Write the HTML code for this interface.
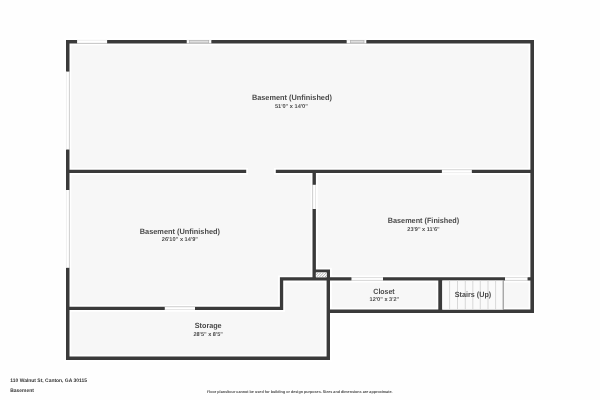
<!DOCTYPE html>
<html><head><meta charset="utf-8"><style>
html,body{margin:0;padding:0;background:#fefefe;width:600px;height:400px;overflow:hidden}
svg{display:block;will-change:transform;filter:blur(0.25px)}
text{text-rendering:geometricPrecision;font-family:"Liberation Sans",sans-serif;fill:#4a4a4a}
</style></head><body>
<svg width="600" height="400" viewBox="0 0 600 400">
<defs><clipPath id="hc"><rect x="315.9" y="272.6" width="10.7" height="4.6"/></clipPath></defs>
<rect width="600" height="400" fill="#fefefe"/>
<path fill="#f7f7f7" d="M66 40H534V312.7H329.8V359.8H66Z"/>
<path fill="#fff" d="M64.20 38.10H535.80V45.20H64.20ZM528.60 38.10H535.80V314.70H528.60ZM64.20 38.10H71.30V361.70H64.20ZM64.20 354.70H331.80V361.70H64.20ZM324.80 267.80H331.80V361.70H324.80ZM324.80 307.80H535.80V314.70H324.80ZM278.10 275.40H535.80V282.40H278.10ZM278.10 275.40H285.00V311.70H278.10ZM64.20 305.00H285.00V311.70H64.20ZM64.20 167.90H248.00V174.80H64.20ZM274.00 167.90H535.80V174.80H274.00ZM310.70 167.90H317.70V282.40H310.70ZM310.70 267.80H331.80V274.40H310.70ZM436.50 275.40H444.10V314.70H436.50Z"/>
<path fill="#3a3a3a" d="M66.00 39.90H534.00V43.40H66.00ZM530.40 39.90H534.00V312.90H530.40ZM66.00 39.90H69.50V359.90H66.00ZM66.00 356.50H330.00V359.90H66.00ZM326.60 269.60H330.00V359.90H326.60ZM326.60 309.60H534.00V312.90H326.60ZM279.90 277.20H534.00V280.60H279.90ZM279.90 277.20H283.20V309.90H279.90ZM66.00 306.80H283.20V309.90H66.00ZM66.00 169.70H246.20V173.00H66.00ZM275.80 169.70H534.00V173.00H275.80ZM312.50 169.70H315.90V280.60H312.50ZM312.50 269.60H330.00V272.60H312.50ZM438.30 277.20H442.30V312.90H438.30Z"/>
<rect x="315.9" y="272.6" width="10.7" height="4.6" fill="#fff"/>
<g clip-path="url(#hc)" stroke="#9a9a9a" stroke-width="0.8"><line x1="313.6" y1="277.2" x2="318.2" y2="272.6"/><line x1="316.4" y1="277.2" x2="321.0" y2="272.6"/><line x1="319.2" y1="277.2" x2="323.8" y2="272.6"/><line x1="322.0" y1="277.2" x2="326.6" y2="272.6"/><line x1="324.8" y1="277.2" x2="329.4" y2="272.6"/></g>
<g fill="#fff"><rect x="77.1" y="39.9" width="30.00" height="3.50"/><rect x="66" y="71.6" width="3.50" height="77.90"/><rect x="66" y="190" width="3.50" height="77.80"/><rect x="441.9" y="169.7" width="29.90" height="3.30"/><rect x="312.5" y="184.8" width="3.40" height="24.20"/><rect x="164.8" y="306.8" width="30.20" height="3.10"/><rect x="351.5" y="277.2" width="31.50" height="3.40"/><rect x="505" y="277.2" width="22.50" height="3.40"/></g>
<g stroke="#dedede" stroke-width="0.5"><line x1="77.1" y1="40.30" x2="107.1" y2="40.30"/><line x1="77.1" y1="43.00" x2="107.1" y2="43.00"/><line x1="66.40" y1="71.6" x2="66.40" y2="149.5"/><line x1="69.10" y1="71.6" x2="69.10" y2="149.5"/><line x1="66.40" y1="190" x2="66.40" y2="267.8"/><line x1="69.10" y1="190" x2="69.10" y2="267.8"/><line x1="441.9" y1="170.10" x2="471.8" y2="170.10"/><line x1="441.9" y1="172.60" x2="471.8" y2="172.60"/><line x1="312.90" y1="184.8" x2="312.90" y2="209"/><line x1="315.50" y1="184.8" x2="315.50" y2="209"/><line x1="164.8" y1="307.20" x2="195" y2="307.20"/><line x1="164.8" y1="309.50" x2="195" y2="309.50"/><line x1="351.5" y1="277.60" x2="383" y2="277.60"/><line x1="351.5" y1="280.20" x2="383" y2="280.20"/><line x1="505" y1="277.60" x2="527.5" y2="277.60"/><line x1="505" y1="280.20" x2="527.5" y2="280.20"/></g>
<rect x="186.75" y="39.9" width="24.55" height="3.5" fill="#fff"/>
<line x1="186.75" y1="40.3" x2="211.3" y2="40.3" stroke="#dedede" stroke-width="0.5"/><line x1="186.75" y1="43.0" x2="211.3" y2="43.0" stroke="#dedede" stroke-width="0.5"/>
<rect x="189.3" y="40.5" width="19.40" height="2.4" fill="#dedede" stroke="#b0b0b0" stroke-width="0.7"/>
<rect x="346.7" y="39.9" width="19.60" height="3.5" fill="#fff"/>
<line x1="346.7" y1="40.3" x2="366.3" y2="40.3" stroke="#dedede" stroke-width="0.5"/><line x1="346.7" y1="43.0" x2="366.3" y2="43.0" stroke="#dedede" stroke-width="0.5"/>
<rect x="350.4" y="40.5" width="13.60" height="2.4" fill="#dedede" stroke="#b0b0b0" stroke-width="0.7"/>
<rect x="442.3" y="280.6" width="61" height="29" fill="#fafafa"/>
<g stroke="#cfcfcf" stroke-width="0.8"><line x1="449.6" y1="280.6" x2="449.6" y2="309.6"/><line x1="457.5" y1="280.6" x2="457.5" y2="309.6"/><line x1="465.3" y1="280.6" x2="465.3" y2="309.6"/><line x1="472.8" y1="280.6" x2="472.8" y2="309.6"/><line x1="480.3" y1="280.6" x2="480.3" y2="309.6"/><line x1="488.0" y1="280.6" x2="488.0" y2="309.6"/><line x1="495.6" y1="280.6" x2="495.6" y2="309.6"/></g>
<line x1="503.2" y1="280.6" x2="503.2" y2="309.6" stroke="#666" stroke-width="0.8"/>
<g font-weight="bold" text-anchor="middle">
<text x="291.9" y="100.4" font-size="7.6" textLength="80.0" lengthAdjust="spacingAndGlyphs">Basement (Unfinished)</text>
<text x="291.4" y="107.8" font-size="5.6" textLength="33.0" lengthAdjust="spacingAndGlyphs">51'0&quot; x 14'0&quot;</text>
<text x="179.9" y="233.7" font-size="7.6" textLength="80.3" lengthAdjust="spacingAndGlyphs">Basement (Unfinished)</text>
<text x="179.9" y="240.9" font-size="5.6" textLength="36.3" lengthAdjust="spacingAndGlyphs">26'10&quot; x 14'9&quot;</text>
<text x="423.5" y="223.0" font-size="7.6" textLength="71.4" lengthAdjust="spacingAndGlyphs">Basement (Finished)</text>
<text x="423.5" y="230.6" font-size="5.6" textLength="32.3" lengthAdjust="spacingAndGlyphs">23'9&quot; x 11'6&quot;</text>
<text x="208.2" y="327.9" font-size="7.6" textLength="26.9" lengthAdjust="spacingAndGlyphs">Storage</text>
<text x="208.2" y="335.5" font-size="5.6" textLength="29.5" lengthAdjust="spacingAndGlyphs">28'5&quot; x 8'5&quot;</text>
<text x="384.0" y="293.6" font-size="7.6" textLength="21.3" lengthAdjust="spacingAndGlyphs">Closet</text>
<text x="384.4" y="301.1" font-size="5.6" textLength="29.6" lengthAdjust="spacingAndGlyphs">12'0&quot; x 3'2&quot;</text>
<text x="473.0" y="297.0" font-size="7.6" textLength="36.4" lengthAdjust="spacingAndGlyphs">Stairs (Up)</text>
</g>
<g font-weight="bold" fill="#333">
<text x="10.3" y="381.8" font-size="5" style="fill:#333" textLength="76.7" lengthAdjust="spacingAndGlyphs">110 Walnut St, Canton, GA 30115</text>
<text x="10.3" y="391.7" font-size="5" style="fill:#333" textLength="23.6" lengthAdjust="spacingAndGlyphs">Basement</text>
</g>
<text x="207" y="393.2" font-size="3.8" font-weight="bold" style="fill:#444" textLength="185.5" lengthAdjust="spacingAndGlyphs">Floor plans/tour cannot be used for building or design purposes. Sizes and dimensions are approximate.</text>
</svg>
</body></html>
